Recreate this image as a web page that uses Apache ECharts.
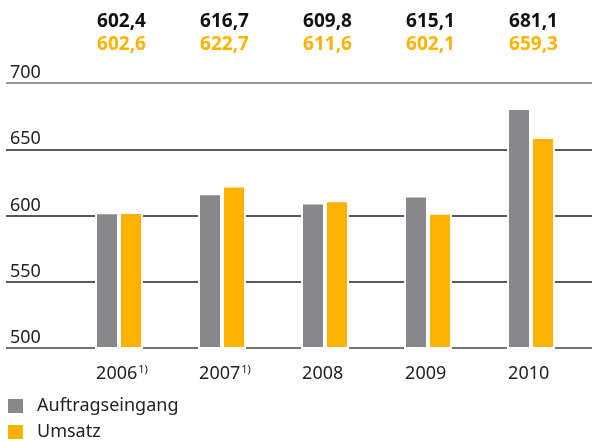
<!DOCTYPE html>
<html>
<head>
<meta charset="utf-8">
<script src="https://cdn.jsdelivr.net/npm/echarts@6/dist/echarts.min.js"></script>
<style>
    html, body { margin: 0; padding: 0; background: #fff; }
    #chart { width: 594px; height: 442px; }
</style>
</head>
<body>
<div id="chart"></div>
<script>
var years = ['2006', '2007', '2008', '2009', '2010']
var notes = ['1)', '1)', '', '', '']
var auftragseingang = [602.4, 616.7, 609.8, 615.1, 681.1]
var umsatz = [602.6, 622.7, 611.6, 602.1, 659.3]
var yTicks = [500, 550, 600, 650, 700]

var font = 'Noto Sans'
var grey = '#88878c'
var orange = '#ffb300'

function fmt(v) {
    return v.toFixed(1).replace('.', ',')
}

var echart = echarts.init(document.getElementById('chart'))
var option = {
    animation: false,
    textStyle: { fontFamily: font },
    grid: [
        // full width grid: only holds the horizontal lines and y labels
        { left: 6, right: 2, top: 83, bottom: 94 },
        // bar grid
        { left: 67.5, width: 515, top: 83, bottom: 94 }
    ],
    legend: {
        orient: 'vertical',
        left: 6,
        top: 397,
        padding: 0,
        itemWidth: 17,
        itemHeight: 16,
        itemGap: 8,
        icon: 'rect',
        textStyle: {
            fontSize: 18,
            color: '#222',
            padding: [0, 0, 0, 8]
        },
        data: ['Auftragseingang', 'Umsatz']
    },
    xAxis: [
        {
            gridIndex: 0,
            type: 'value',
            show: false
        },
        {
            gridIndex: 1,
            type: 'category',
            data: years,
            axisLine: { show: false },
            axisTick: { show: false },
            axisLabel: {
                interval: 0,
                margin: 16,
                padding: [0, 0, 0, 6],
                formatter: function (val, i) {
                    var n = notes[i]
                    return '{y|' + val + '}' + (n ? '{s|' + n + '}' : '{h|1)}')
                },
                rich: {
                    y: { fontSize: 18, color: '#222', fontFamily: font },
                    s: { fontSize: 11, color: '#222', fontFamily: font, verticalAlign: 'top', padding: [0, 0, 8, 1] },
                    h: { fontSize: 11, color: 'transparent', fontFamily: font, padding: [0, 0, 8, 1] }
                }
            }
        },
        {
            gridIndex: 1,
            type: 'category',
            position: 'top',
            data: years,
            axisLine: { show: false },
            axisTick: { show: false },
            axisLabel: {
                interval: 0,
                margin: 27,
                padding: [0, 0, 0, 5],
                formatter: function (val, i) {
                    return '{a|' + fmt(auftragseingang[i]) + '}\n{b|' + fmt(umsatz[i]) + '}'
                },
                rich: {
                    a: { fontSize: 19, fontWeight: 'bold', color: '#111', lineHeight: 23, fontFamily: font },
                    b: { fontSize: 19, fontWeight: 'bold', color: orange, lineHeight: 23, fontFamily: font }
                }
            }
        }
    ],
    yAxis: [
        {
            gridIndex: 0,
            type: 'value',
            min: yTicks[0],
            max: yTicks[yTicks.length - 1],
            interval: 50,
            axisLine: { show: false },
            axisTick: { show: false },
            axisLabel: {
                inside: true,
                margin: 4,
                verticalAlign: 'bottom',
                padding: [0, 0, 1, 0],
                fontSize: 18,
                color: '#222'
            },
            splitLine: {
                show: true,
                lineStyle: {
                    color: ['#444', '#222', '#222', '#222', '#777'],
                    width: 1.5
                }
            }
        },
        {
            gridIndex: 1,
            type: 'value',
            min: yTicks[0],
            max: yTicks[yTicks.length - 1],
            show: false
        }
    ],
    series: [
        {
            name: 'Auftragseingang',
            type: 'bar',
            xAxisIndex: 1,
            yAxisIndex: 1,
            barWidth: 24,
            barGap: '0%',
            itemStyle: {
                color: grey,
                borderColor: '#fff',
                borderWidth: 2
            },
            data: auftragseingang
        },
        {
            name: 'Umsatz',
            type: 'bar',
            xAxisIndex: 1,
            yAxisIndex: 1,
            barWidth: 24,
            barGap: '0%',
            itemStyle: {
                color: orange,
                borderColor: '#fff',
                borderWidth: 2
            },
            data: umsatz
        }
    ]
}
echart.setOption(option)
</script>
</body>
</html>
